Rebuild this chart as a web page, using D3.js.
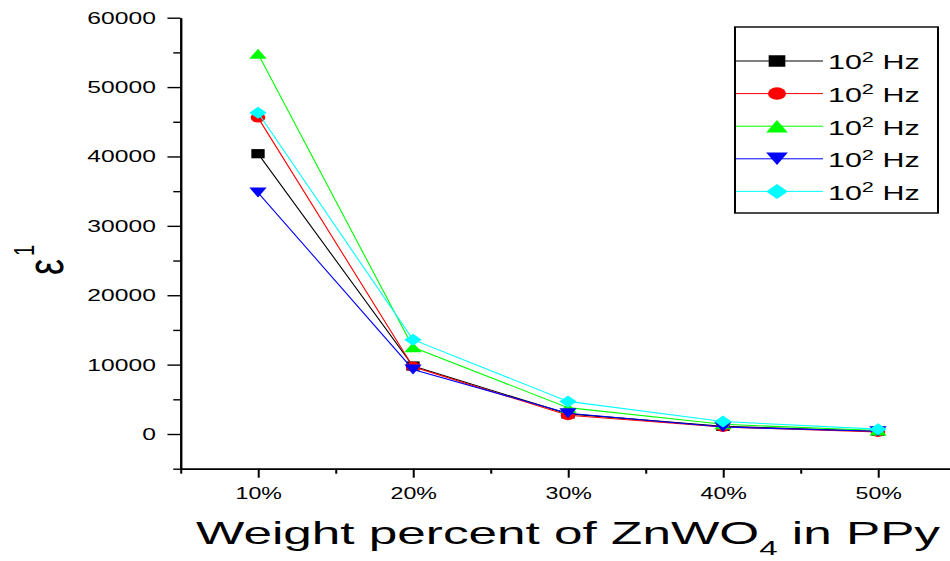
<!DOCTYPE html>
<html>
<head>
<meta charset="utf-8">
<script src="https://cdn.jsdelivr.net/npm/d3@7"></script>
<style>
  html, body { margin: 0; padding: 0; background: #fff; }
  svg { display: block; }
  text { font-family: "Liberation Sans", Arial, sans-serif; fill: #000; }
</style>
</head>
<body>
<div id="chart"></div>
<script>
// Data
var categories = [10, 20, 30, 40, 50];           // weight percent of ZnWO4
var xTickLabels = ["10%", "20%", "30%", "40%", "50%"];
var yTickValues = [0, 10000, 20000, 30000, 40000, 50000, 60000];
var seriesBlack = [40400, 9800, 2900, 1100, 400];
var seriesRed   = [45600, 9700, 2700, 1000, 300];
var seriesGreen = [54800, 12500, 3800, 1400, 500];
var seriesBlue  = [34800, 9300, 3000, 1000, 400];
var seriesCyan  = [46300, 13600, 4700, 1800, 700];
var legendBase = ["10", "10", "10", "10", "10"];
var legendSup  = ["2", "2", "2", "2", "2"];
var legendUnit = [" Hz", " Hz", " Hz", " Hz", " Hz"];

var series = [
    { values: seriesBlack, color: "#000000", marker: "square" },
    { values: seriesRed,   color: "#ff0000", marker: "circle" },
    { values: seriesGreen, color: "#00ff00", marker: "up" },
    { values: seriesBlue,  color: "#0000ff", marker: "down" },
    { values: seriesCyan,  color: "#00ffff", marker: "diamond" }
];

// the original picture is stretched sideways, so draw in a narrower
// coordinate system and let the viewBox stretch it back out
var S = 1.45;
var W = 950, H = 561;
var px = function (v) { return v / S; };

var svg = d3.select("#chart")
    .append("svg")
    .attr("width", W)
    .attr("height", H)
    .attr("viewBox", "0 0 " + (W / S) + " " + H)
    .attr("preserveAspectRatio", "none");

var x = d3.scaleLinear().domain([5, 55]).range([px(180.5), px(955.5)]);
var y = d3.scaleLinear().domain([-5000, 60000]).range([468.7, 17.7]);

// Y axis: minor ticks first, then major ticks with labels
var yMinor = svg.append("g")
    .attr("transform", "translate(" + x(5) + ",0)")
    .call(d3.axisLeft(y).tickValues(d3.range(-5000, 60001, 10000)).tickSize(5).tickSizeOuter(0).tickFormat(""));
var yMajor = svg.append("g")
    .attr("transform", "translate(" + x(5) + ",0)")
    .call(d3.axisLeft(y).tickValues(yTickValues).tickSize(9).tickSizeOuter(0).tickPadding(8).tickFormat(d3.format("d")));

// X axis
var xMinor = svg.append("g")
    .attr("transform", "translate(0," + y(-5000) + ")")
    .call(d3.axisBottom(x).tickValues([5, 15, 25, 35, 45, 55]).tickSize(5).tickSizeOuter(0).tickFormat(""));
var xMajor = svg.append("g")
    .attr("transform", "translate(0," + y(-5000) + ")")
    .call(d3.axisBottom(x).tickValues(categories).tickSize(9).tickSizeOuter(0).tickPadding(10)
        .tickFormat(function (d, i) { return xTickLabels[i]; }));

svg.selectAll(".domain, .tick line").attr("stroke", "#000").attr("stroke-width", 1.4);
yMajor.selectAll("text").style("font-size", "17px").attr("fill", "#000");
xMajor.selectAll("text").style("font-size", "16px").attr("fill", "#000");

// marker shapes, in the narrow coordinate system
function markerPath(type, k) {
    var p = d3.path();
    if (type === "square") {
        var h = 4.6 * k;
        p.rect(-h, -h, 2 * h, 2 * h);
    } else if (type === "circle") {
        p.arc(0, 0, 5 * k, 0, 2 * Math.PI);
    } else if (type === "up") {
        p.moveTo(0, -5 * k); p.lineTo(6 * k, 5 * k); p.lineTo(-6 * k, 5 * k); p.closePath();
    } else if (type === "down") {
        p.moveTo(-6 * k, -5 * k); p.lineTo(6 * k, -5 * k); p.lineTo(0, 5 * k); p.closePath();
    } else if (type === "diamond") {
        p.moveTo(0, -6 * k); p.lineTo(6 * k, 0); p.lineTo(0, 6 * k); p.lineTo(-6 * k, 0); p.closePath();
    }
    return p.toString();
}

var line = d3.line()
    .x(function (d, i) { return x(categories[i]); })
    .y(function (d) { return y(d); });

// lines and symbols, one series after the other
series.forEach(function (s) {
    var g = svg.append("g");
    g.append("path")
        .attr("d", line(s.values))
        .attr("fill", "none")
        .attr("stroke", s.color)
        .attr("stroke-width", 1.1)
        .attr("vector-effect", "non-scaling-stroke");
    g.selectAll("path.marker")
        .data(s.values)
        .enter()
        .append("path")
        .attr("class", "marker")
        .attr("transform", function (d, i) { return "translate(" + x(categories[i]) + "," + y(d) + ")"; })
        .attr("d", markerPath(s.marker, 1))
        .attr("fill", s.color);
});

// Legend
var legend = svg.append("g");
legend.append("rect")
    .attr("x", px(735)).attr("y", 27)
    .attr("width", px(938) - px(735)).attr("height", 186)
    .attr("fill", "#fff")
    .attr("stroke", "#000")
    .attr("stroke-width", 1.4);

series.forEach(function (s, i) {
    var cy = 61 + i * 32.6;
    legend.append("line")
        .attr("x1", px(736)).attr("x2", px(823))
        .attr("y1", cy).attr("y2", cy)
        .attr("stroke", s.color)
        .attr("stroke-width", 1)
        .attr("vector-effect", "non-scaling-stroke");
    legend.append("path")
        .attr("transform", "translate(" + px(777) + "," + cy + ")")
        .attr("d", markerPath(s.marker, 1.25))
        .attr("fill", s.color);
    var t = legend.append("text")
        .attr("x", px(828))
        .attr("y", cy + 8.4)
        .style("font-size", "21px");
    t.append("tspan").text(legendBase[i]);
    t.append("tspan").attr("dy", -7.5).style("font-size", "15px").text(legendSup[i]);
    t.append("tspan").attr("dy", 7.5).text(legendUnit[i]);
});

// Y axis title: epsilon with superscript 1, rotated
var yt = svg.append("text")
    .attr("transform", "translate(" + px(63) + ",275) rotate(-90)")
    .style("font-size", "36px");
yt.append("tspan").text("ε");
yt.append("tspan").attr("dy", -20).attr("dx", 3).style("font-size", "20px").text("1");

// X axis title
var xt = svg.append("text")
    .attr("x", px(196))
    .attr("y", 544)
    .attr("textLength", px(940) - px(196))
    .attr("lengthAdjust", "spacingAndGlyphs")
    .style("font-size", "31px");
xt.append("tspan").text("Weight percent of ZnWO");
xt.append("tspan").attr("dy", 11).style("font-size", "20px").text("4");
xt.append("tspan").attr("dy", -11).text(" in PPy");
</script>
</body>
</html>
